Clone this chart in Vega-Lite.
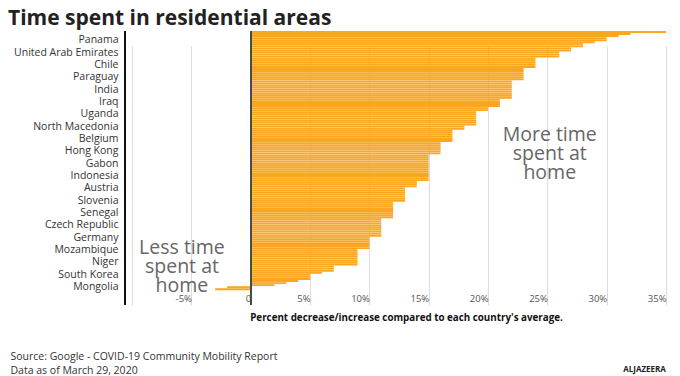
{
  "$schema": "https://vega.github.io/schema/vega-lite/v6.json",
  "width": 541,
  "height": 274,
  "autosize": {"type": "none"},
  "padding": {"left": 125, "top": 31, "right": 14, "bottom": 71},
  "background": "white",
  "config": {"view": {"stroke": null}, "font": "Open Sans"},
  "title": {"text": "Time spent in residential areas", "anchor": "start", "frame": "group", "dx": -117, "offset": 1, "font": "Open Sans", "fontSize": 21, "fontWeight": "bold", "color": "#222"},
  "data": {"values": [
    {"country": "r000", "value": 35}, {"country": "r001", "value": 32}, {"country": "r002", "value": 31}, {"country": "r003", "value": 30},
    {"country": "Panama", "value": 30}, {"country": "r005", "value": 29}, {"country": "r006", "value": 28}, {"country": "r007", "value": 28},
    {"country": "r008", "value": 27}, {"country": "r009", "value": 27}, {"country": "United Arab Emirates", "value": 26}, {"country": "r011", "value": 26},
    {"country": "r012", "value": 26}, {"country": "r013", "value": 24}, {"country": "r014", "value": 24}, {"country": "r015", "value": 24},
    {"country": "Chile", "value": 24}, {"country": "r017", "value": 24}, {"country": "r018", "value": 23}, {"country": "r019", "value": 23},
    {"country": "r020", "value": 23}, {"country": "r021", "value": 23}, {"country": "Paraguay", "value": 23}, {"country": "r023", "value": 23},
    {"country": "r024", "value": 22}, {"country": "r025", "value": 22}, {"country": "r026", "value": 22}, {"country": "r027", "value": 22},
    {"country": "India", "value": 22}, {"country": "r029", "value": 22}, {"country": "r030", "value": 22}, {"country": "r031", "value": 22},
    {"country": "r032", "value": 22}, {"country": "r033", "value": 21}, {"country": "Iraq", "value": 21}, {"country": "r035", "value": 21},
    {"country": "r036", "value": 21}, {"country": "r037", "value": 20}, {"country": "r038", "value": 20}, {"country": "r039", "value": 19},
    {"country": "Uganda", "value": 19}, {"country": "r041", "value": 19}, {"country": "r042", "value": 19}, {"country": "r043", "value": 19},
    {"country": "r044", "value": 19}, {"country": "r045", "value": 19}, {"country": "North Macedonia", "value": 18}, {"country": "r047", "value": 18},
    {"country": "r048", "value": 17}, {"country": "r049", "value": 17}, {"country": "r050", "value": 17}, {"country": "r051", "value": 17},
    {"country": "Belgium", "value": 17}, {"country": "r053", "value": 17}, {"country": "r054", "value": 16}, {"country": "r055", "value": 16},
    {"country": "r056", "value": 16}, {"country": "r057", "value": 16}, {"country": "Hong Kong", "value": 16}, {"country": "r059", "value": 16},
    {"country": "r060", "value": 15}, {"country": "r061", "value": 15}, {"country": "r062", "value": 15}, {"country": "r063", "value": 15},
    {"country": "Gabon", "value": 15}, {"country": "r065", "value": 15}, {"country": "r066", "value": 15}, {"country": "r067", "value": 15},
    {"country": "r068", "value": 15}, {"country": "r069", "value": 15}, {"country": "Indonesia", "value": 15}, {"country": "r071", "value": 15},
    {"country": "r072", "value": 15}, {"country": "r073", "value": 14}, {"country": "r074", "value": 14}, {"country": "r075", "value": 14},
    {"country": "Austria", "value": 13}, {"country": "r077", "value": 13}, {"country": "r078", "value": 13}, {"country": "r079", "value": 13},
    {"country": "r080", "value": 13}, {"country": "r081", "value": 13}, {"country": "Slovenia", "value": 13}, {"country": "r083", "value": 12},
    {"country": "r084", "value": 12}, {"country": "r085", "value": 12}, {"country": "r086", "value": 12}, {"country": "r087", "value": 12},
    {"country": "Senegal", "value": 12}, {"country": "r089", "value": 12}, {"country": "r090", "value": 12}, {"country": "r091", "value": 11},
    {"country": "r092", "value": 11}, {"country": "r093", "value": 11}, {"country": "Czech Republic", "value": 11}, {"country": "r095", "value": 11},
    {"country": "r096", "value": 11}, {"country": "r097", "value": 11}, {"country": "r098", "value": 11}, {"country": "r099", "value": 11},
    {"country": "Germany", "value": 10}, {"country": "r101", "value": 10}, {"country": "r102", "value": 10}, {"country": "r103", "value": 10},
    {"country": "r104", "value": 10}, {"country": "r105", "value": 10}, {"country": "Mozambique", "value": 9}, {"country": "r107", "value": 9},
    {"country": "r108", "value": 9}, {"country": "r109", "value": 9}, {"country": "r110", "value": 9}, {"country": "r111", "value": 9},
    {"country": "Niger", "value": 9}, {"country": "r113", "value": 9}, {"country": "r114", "value": 7}, {"country": "r115", "value": 7},
    {"country": "r116", "value": 7}, {"country": "r117", "value": 6}, {"country": "South Korea", "value": 5}, {"country": "r119", "value": 5},
    {"country": "r120", "value": 5}, {"country": "r121", "value": 4}, {"country": "r122", "value": 3}, {"country": "r123", "value": 2},
    {"country": "Mongolia", "value": -2}, {"country": "r125", "value": -3}
  ]},
  "resolve": {"axis": {"y": "independent"}},
  "layer": [
    {
      "mark": {"type": "bar", "color": "#FAA61E"},
      "encoding": {
        "y": {
          "field": "country", "type": "nominal", "sort": null,
          "scale": {"paddingInner": 0.08, "paddingOuter": 0, "range": [0, 259.2]},
          "axis": {
            "values": ["Panama", "United Arab Emirates", "Chile", "Paraguay", "India", "Iraq", "Uganda", "North Macedonia", "Belgium", "Hong Kong", "Gabon", "Indonesia", "Austria", "Slovenia", "Senegal", "Czech Republic", "Germany", "Mozambique", "Niger", "South Korea", "Mongolia"],
            "ticks": false, "labelPadding": 7, "labelFontSize": 10.5, "labelColor": "#333", "labelFont": "Open Sans",
            "domain": false, "grid": false,
            "title": ["Source: Google - COVID-19 Community Mobility Report", "Data as of March 29, 2020"],
            "titleAngle": 0, "titleAlign": "left", "titleBaseline": "alphabetic", "titleX": -115, "titleY": 328,
            "titleFont": "Open Sans", "titleFontSize": 10.5, "titleFontWeight": "normal", "titleColor": "#333", "titleLineHeight": 14
          }
        },
        "x": {
          "field": "value", "type": "quantitative",
          "scale": {"domain": [-10.6, 35], "nice": false, "zero": false},
          "axis": {
            "values": [-10, -5, 0, 5, 10, 15, 20, 25, 30, 35],
            "labelExpr": "datum.value <= -10 ? '' : (datum.value == 0 ? '0' : datum.value + '%')",
            "labelAlign": "right", "labelBaseline": "middle", "labelPadding": -7, "labelDx": -3,
            "labelFlush": false, "labelOverlap": false,
            "labelFontSize": 9.5, "labelColor": "#555", "labelFont": "Open Sans",
            "ticks": false, "domain": false, "grid": true, "gridColor": "#dcdcdc", "gridWidth": 1,
            "title": "Percent decrease/increase compared to each country's average.",
            "titleX": 281, "titleY": 12, "titleAlign": "center", "titleBaseline": "middle",
            "titleFont": "Open Sans", "titleFontSize": 9.8, "titleFontWeight": "bold", "titleColor": "#111"
          }
        }
      }
    },
    {
      "mark": {"type": "rule", "color": "#4a4a4a", "strokeWidth": 1.5},
      "encoding": {"x": {"datum": 0}}
    },
    {
      "mark": {"type": "rule", "color": "#111", "strokeWidth": 2},
      "encoding": {"x": {"datum": -10.6}}
    },
    {
      "transform": [{"filter": "datum.country == 'r050'"}],
      "mark": {"type": "text", "align": "center", "baseline": "middle", "fontSize": 19.5, "lineHeight": 19, "color": "#666", "font": "Open Sans"},
      "encoding": {
        "y": {
          "field": "country", "type": "nominal", "sort": null,
          "axis": {
            "orient": "right", "labels": false, "ticks": false, "domain": false, "grid": false,
            "title": "ALJAZEERA", "titleAngle": 0, "titleAlign": "center", "titleBaseline": "middle",
            "titleX": -22, "titleY": 338, "titleFont": "Open Sans", "titleFontSize": 8, "titleFontWeight": "bold", "titleColor": "#222"
          }
        },
        "x": {"datum": 25.2},
        "text": {"value": ["More time", "spent at", "home"]}
      }
    },
    {
      "transform": [{"filter": "datum.country == 'r105'"}],
      "mark": {"type": "text", "align": "center", "baseline": "middle", "fontSize": 19.5, "lineHeight": 19, "color": "#666", "font": "Open Sans"},
      "encoding": {
        "y": {"field": "country", "type": "nominal", "sort": null, "axis": null},
        "x": {"datum": -5.8},
        "text": {"value": ["Less time", "spent at", "home"]}
      }
    }
  ]
}
